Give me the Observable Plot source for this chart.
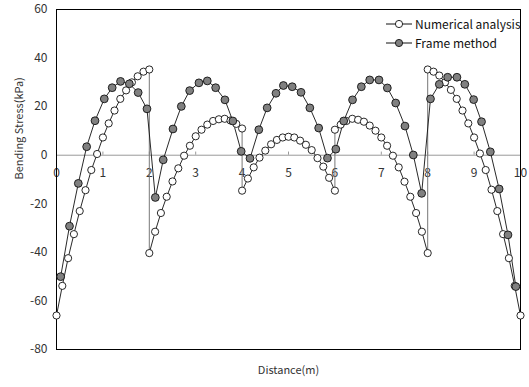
<!DOCTYPE html>
<html>
<head>
<meta charset="utf-8">
<script src="https://cdn.jsdelivr.net/npm/d3@7"></script>
<script src="https://cdn.jsdelivr.net/npm/@observablehq/plot@0.6"></script>
<style>
  html, body { margin: 0; padding: 0; background: #fff; }
  #wrap { position: relative; width: 529px; height: 387px; font-family: "Noto Sans CJK KR", "Noto Sans", sans-serif; }
  #legend { position: absolute; left: 385px; top: 14px; font-size: 12px; color: #111; line-height: 19px; }
  #legend div { display: flex; align-items: center; white-space: nowrap; }
  #legend svg { margin-right: 2px; }
</style>
</head>
<body>
<div id="wrap"></div>
<script>
// Numerical analysis (open circles): x positions and bending stress (kPa)
const numX = [
  0, 0.125, 0.25, 0.375, 0.5, 0.625, 0.75, 0.875, 1, 1.125, 1.25, 1.375, 1.5, 1.625, 1.75, 1.875, 2,
  2, 2.125, 2.25, 2.375, 2.5, 2.625, 2.75, 2.875, 3, 3.125, 3.25, 3.375, 3.5, 3.625, 3.75, 3.875, 4,
  4, 4.125, 4.25, 4.375, 4.5, 4.625, 4.75, 4.875, 5, 5.125, 5.25, 5.375, 5.5, 5.625, 5.75, 5.875, 6,
  6, 6.125, 6.25, 6.375, 6.5, 6.625, 6.75, 6.875, 7, 7.125, 7.25, 7.375, 7.5, 7.625, 7.75, 7.875, 8,
  8, 8.125, 8.25, 8.375, 8.5, 8.625, 8.75, 8.875, 9, 9.125, 9.25, 9.375, 9.5, 9.625, 9.75, 9.875, 10
];
const numY = [
  -66, -53.8, -42.4, -32.5, -23.0, -14.4, -6.1, 0.5, 7.3, 13.1, 18.4, 23.2, 26.7, 30.0, 32.5, 34.4, 35.3,
  -40.3, -31.5, -23.8, -17.1, -10.8, -5.4, -0.2, 3.9, 7.8, 10.5, 12.6, 14.1, 14.8, 15.0, 14.3, 12.9, 11.0,
  -14.6, -9.6, -5.0, -1.0, 1.9, 4.5, 6.3, 7.3, 7.6, 7.3, 6.0, 4.3, 2.1, -1.2, -4.7, -9.3, -14.6,
  10.5, 12.6, 14.1, 15.0, 14.6, 13.8, 12.2, 10.1, 7.3, 3.9, -0.2, -5.0, -10.9, -17.1, -23.8, -31.5, -40.3,
  35.3, 34.4, 32.8, 30.0, 26.9, 23.2, 18.4, 13.1, 7.3, 0.7, -6.1, -14.2, -23.0, -32.5, -42.4, -53.8, -66
];
// Frame method (filled circles)
const frameX = [
  0.09, 0.28, 0.47, 0.65, 0.83, 1.03, 1.20, 1.38, 1.57, 1.76, 1.95,
  2.13, 2.30, 2.51, 2.69, 2.87, 3.07, 3.25, 3.43, 3.63, 3.80, 3.98,
  4.17, 4.36, 4.54, 4.73, 4.89, 5.08, 5.27, 5.46, 5.65, 5.84, 6.02,
  6.19, 6.38, 6.57, 6.75, 6.95, 7.13, 7.31, 7.51, 7.69, 7.87,
  8.06, 8.25, 8.43, 8.63, 8.80, 8.99, 9.16, 9.35, 9.54, 9.73, 9.90
];
const frameY = [
  -50.0, -29.2, -11.6, 3.5, 14.2, 23.2, 27.8, 30.4, 29.4, 25.8, 19.1,
  -17.4, -1.9, 10.8, 20.1, 26.6, 29.8, 30.6, 27.8, 22.8, 14.1, 1.6,
  -1.3, 10.5, 19.5, 25.5, 28.7, 28.2, 25.9, 19.5, 11.2, -1.2, 2.5,
  14.1, 22.8, 28.2, 31.0, 31.0, 27.7, 21.5, 12.0, 0.1, -15.7,
  23.2, 29.2, 32.1, 32.1, 29.2, 22.9, 13.8, 1.4, -13.9, -32.8, -54.1
];
const xTicks = [0, 1, 2, 3, 4, 5, 6, 7, 8, 9, 10];
const yTicks = [-80, -60, -40, -20, 0, 20, 40, 60];
const seriesNames = ["Numerical analysis", "Frame method"];

// split numerical series into segments at repeated x (the jumps)
let seg = 0;
const numData = numX.map((x, i) => {
  if (i > 0 && x === numX[i - 1]) seg++;
  return {x, y: numY[i], seg};
});
const jumps = numX
  .map((x, i) => (i > 0 && x === numX[i - 1]) ? {x, y1: numY[i - 1], y2: numY[i]} : null)
  .filter(d => d);
const frameData = frameX.map((x, i) => ({x, y: frameY[i]}));

const font = '"Noto Sans CJK KR", "Noto Sans", sans-serif';
const chart = Plot.plot({
  width: 529,
  height: 387,
  marginLeft: 56,
  marginRight: 9,
  marginTop: 9,
  marginBottom: 38,
  style: {fontFamily: font, fontSize: "11px", background: "#fff"},
  x: {domain: [0, 10]},
  y: {domain: [-80, 60]},
  marks: [
    Plot.ruleY([0], {stroke: "#999", strokeWidth: 1}),
    Plot.ruleX(xTicks, {x: d => d, y1: 0, y2: 1.3, stroke: "#999"}),
    Plot.text(xTicks, {x: d => d, y: 0, text: d => String(d), dy: 18, fontSize: 12, fill: "#333"}),
    Plot.axisY({ticks: yTicks, tickSize: 0, tickPadding: 9, label: null, fontSize: 12, fill: "#333", tickFormat: d => String(d)}),
    Plot.axisX({ticks: [], label: null}),
    Plot.frame({stroke: "#000", strokeWidth: 1}),
    Plot.ruleX(jumps, {x: "x", y1: "y1", y2: "y2", stroke: "#777", strokeWidth: 1}),
    Plot.line(numData, {x: "x", y: "y", z: "seg", stroke: "#111", strokeWidth: 0.9}),
    Plot.line(frameData, {x: "x", y: "y", stroke: "#111", strokeWidth: 0.9}),
    Plot.dot(numData, {x: "x", y: "y", r: 3.6, fill: "#fff", stroke: "#111", strokeWidth: 0.9}),
    Plot.dot(frameData, {x: "x", y: "y", r: 3.9, fill: "#808080", stroke: "#111", strokeWidth: 0.9}),
    Plot.text(["Distance(m)"], {frameAnchor: "bottom", dy: 24, fontSize: 11, fill: "#333"}),
    Plot.text(["Bending Stress(kPa)"], {frameAnchor: "left", dx: -37, rotate: -90, fontSize: 11, fill: "#333"})
  ]
});

const wrap = document.getElementById("wrap");
wrap.appendChild(chart);

const legend = document.createElement("div");
legend.id = "legend";
const fills = ["#fff", "#808080"];
seriesNames.forEach((name, i) => {
  const row = document.createElement("div");
  row.innerHTML = `<svg width="28" height="12"><line x1="1" x2="27" y1="6" y2="6" stroke="#111" stroke-width="1"/><circle cx="14" cy="6" r="3.6" fill="${fills[i]}" stroke="#111" stroke-width="0.9"/></svg><span>${name}</span>`;
  legend.appendChild(row);
});
wrap.appendChild(legend);
</script>
</body>
</html>
